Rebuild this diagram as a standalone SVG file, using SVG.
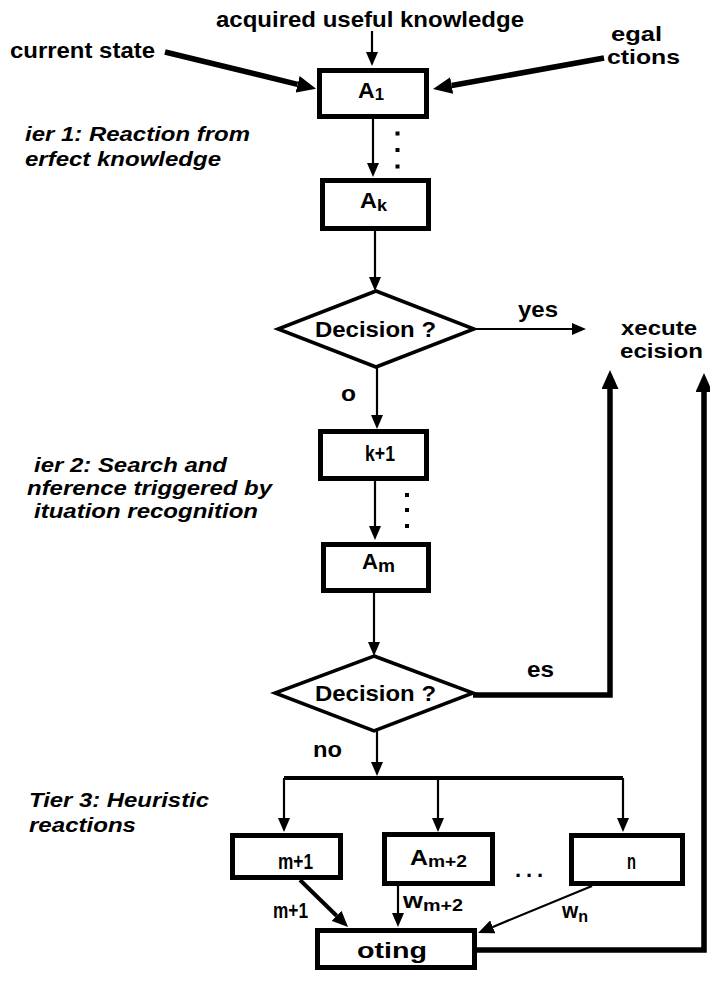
<svg xmlns="http://www.w3.org/2000/svg" width="710" height="982" viewBox="0 0 710 982">
<style>
.t{font-family:"Liberation Sans",Arial,Helvetica,sans-serif;font-weight:bold;font-size:22px;fill:#000}
.p{font-size:21px}
.ti{font-style:italic}
.box{fill:#fff;stroke:#000;stroke-width:5}
.dia{fill:#fff;stroke:#000;stroke-width:3.5;stroke-linejoin:miter}
.c{fill:none;stroke:#000;stroke-width:2.2}
.cb{fill:none;stroke:#000;stroke-width:5.5}
.cm{fill:none;stroke:#000;stroke-width:4}
.dot{fill:#000}
</style>
<defs>
<marker id="ah" markerUnits="userSpaceOnUse" markerWidth="14" markerHeight="12" refX="0" refY="6" orient="auto"><path d="M0,0 L14,6 L0,12 z" fill="#000"/></marker>
<marker id="ahm" markerUnits="userSpaceOnUse" markerWidth="16" markerHeight="14" refX="0" refY="7" orient="auto"><path d="M0,0 L16,7 L0,14 z" fill="#000"/></marker>
<marker id="ahb" markerUnits="userSpaceOnUse" markerWidth="19" markerHeight="17" refX="0" refY="8.5" orient="auto"><path d="M0,0 L19,8.5 L0,17 z" fill="#000"/></marker>
</defs>

<g id="labels">
<text class="t" x="216" y="27" textLength="308" lengthAdjust="spacingAndGlyphs">acquired useful knowledge</text>
<text class="t" x="10" y="58" textLength="145" lengthAdjust="spacingAndGlyphs">current state</text>
<text class="t p" x="611" y="41" textLength="51" lengthAdjust="spacingAndGlyphs">egal</text>
<text class="t p" x="607" y="64" textLength="73" lengthAdjust="spacingAndGlyphs">ctions</text>
<text class="t ti p" x="25" y="141" textLength="225" lengthAdjust="spacingAndGlyphs">ier 1: Reaction from</text>
<text class="t ti p" x="25" y="166" textLength="196" lengthAdjust="spacingAndGlyphs">erfect knowledge</text>
<text class="t" x="518" y="317" textLength="40" lengthAdjust="spacingAndGlyphs">yes</text>
<text class="t p" x="621" y="335" textLength="76" lengthAdjust="spacingAndGlyphs">xecute</text>
<text class="t p" x="620" y="358" textLength="83" lengthAdjust="spacingAndGlyphs">ecision</text>
<text class="t" x="341" y="401" textLength="15" lengthAdjust="spacingAndGlyphs">o</text>
<text class="t ti p" x="34" y="472" textLength="193" lengthAdjust="spacingAndGlyphs">ier 2: Search and</text>
<text class="t ti p" x="27" y="495" textLength="245" lengthAdjust="spacingAndGlyphs">nference triggered by</text>
<text class="t ti p" x="34" y="518" textLength="224" lengthAdjust="spacingAndGlyphs">ituation recognition</text>
<text class="t" x="527" y="677" textLength="27" lengthAdjust="spacingAndGlyphs">es</text>
<text class="t" x="313" y="757" textLength="29" lengthAdjust="spacingAndGlyphs">no</text>
<text class="t ti p" x="29" y="807" textLength="180" lengthAdjust="spacingAndGlyphs">Tier 3: Heuristic</text>
<text class="t ti p" x="29" y="832" textLength="107" lengthAdjust="spacingAndGlyphs">reactions</text>
<text class="t" x="515" y="877" textLength="28" lengthAdjust="spacing">...</text>
<text class="t" x="273" y="918" font-size="17" textLength="35" lengthAdjust="spacingAndGlyphs">m+1</text>
<text class="t" x="403" y="908" textLength="60" lengthAdjust="spacingAndGlyphs">w<tspan font-size="17" dy="3">m+2</tspan></text>
<text class="t" x="562" y="918" textLength="26" lengthAdjust="spacingAndGlyphs">w<tspan font-size="17" dy="4">n</tspan></text>
</g>

<g id="connectors">
<path class="c" d="M372,31 V52" marker-end="url(#ah)"/>
<path class="cb" d="M165,52 L297.6,84.3" marker-end="url(#ahb)"/>
<path class="cb" d="M604,58 L451.7,85.5" marker-end="url(#ahb)"/>
<path class="c" d="M373,119 V163" marker-end="url(#ah)"/>
<path class="c" d="M375,231 V277" marker-end="url(#ah)"/>
<path class="c" d="M474,329 H572" marker-end="url(#ah)"/>
<path class="c" d="M377,367 V415" marker-end="url(#ah)"/>
<path class="c" d="M375,481 V526" marker-end="url(#ah)"/>
<path class="c" d="M374,593 V642" marker-end="url(#ah)"/>
<path class="cb" d="M473,695 H610 V389" marker-end="url(#ahb)"/>
<path class="c" d="M377,731 V762" marker-end="url(#ah)"/>
<path class="cm" d="M284,778 H623"/>
<path class="c" d="M284,778 V818" marker-end="url(#ah)"/>
<path class="c" d="M438,778 V818" marker-end="url(#ah)"/>
<path class="c" d="M623,778 V818" marker-end="url(#ah)"/>
<path class="cm" d="M300,880 L336.6,915.8" marker-end="url(#ahm)"/>
<path class="c" d="M398,884 V913" marker-end="url(#ah)"/>
<path class="c" d="M592,886 L492.8,926.9" stroke-width="2.5" marker-end="url(#ahm)"/>
<path class="cb" d="M477,950 H704 V392" stroke-width="5" marker-end="url(#ahb)"/>
<rect class="dot" x="395.5" y="131.5" width="4" height="4"/>
<rect class="dot" x="395.5" y="148" width="4" height="4"/>
<rect class="dot" x="395.5" y="164.5" width="4" height="4"/>
<rect class="dot" x="405" y="493" width="4" height="4"/>
<rect class="dot" x="405" y="508" width="4" height="4"/>
<rect class="dot" x="405" y="524" width="4" height="4"/>
</g>

<g id="A1">
<rect class="box" x="319.5" y="70.5" width="107" height="46"/>
<text class="t" x="358" y="98" font-size="24" textLength="26" lengthAdjust="spacingAndGlyphs">A<tspan font-size="16" dy="2">1</tspan></text>
</g>
<g id="Ak">
<rect class="box" x="322.5" y="180.5" width="106" height="48" stroke-width="5.5"/>
<text class="t" x="360" y="208" font-size="24" textLength="27" lengthAdjust="spacingAndGlyphs">A<tspan font-size="17" dy="3">k</tspan></text>
</g>
<g id="decision1">
<polygon class="dia" points="376,291 474,329 376,367 278,329"/>
<text class="t" x="315" y="337" textLength="121" lengthAdjust="spacingAndGlyphs">Decision ?</text>
</g>
<g id="Ak1">
<rect class="box" x="320.5" y="431.5" width="106" height="47"/>
<text class="t" x="365" y="461" font-size="18" textLength="30" lengthAdjust="spacingAndGlyphs">k+1</text>
</g>
<g id="Am">
<rect class="box" x="323.5" y="544.5" width="105" height="46"/>
<text class="t" x="362" y="569" font-size="24" textLength="33" lengthAdjust="spacingAndGlyphs">A<tspan font-size="19" dy="3">m</tspan></text>
</g>
<g id="decision2">
<polygon class="dia" points="374,656 473,693 374,731 275,693"/>
<text class="t" x="315" y="701" textLength="121" lengthAdjust="spacingAndGlyphs">Decision ?</text>
</g>
<g id="Am1">
<rect class="box" x="232.5" y="835.5" width="108" height="42"/>
<text class="t" x="278" y="869" font-size="17" textLength="35" lengthAdjust="spacingAndGlyphs">m+1</text>
</g>
<g id="Am2">
<rect class="box" x="384.5" y="834.5" width="108" height="49"/>
<text class="t" x="410" y="865" font-size="22" textLength="57" lengthAdjust="spacingAndGlyphs">A<tspan font-size="17" dy="2">m+2</tspan></text>
</g>
<g id="An">
<rect class="box" x="571.5" y="835.5" width="111" height="48"/>
<text class="t" x="627" y="869" font-size="17" textLength="9" lengthAdjust="spacingAndGlyphs">n</text>
</g>
<g id="voting">
<rect class="box" x="317.5" y="930.5" width="157" height="37"/>
<text class="t" x="357" y="958" font-size="25" textLength="70" lengthAdjust="spacingAndGlyphs">oting</text>
</g>
</svg>
